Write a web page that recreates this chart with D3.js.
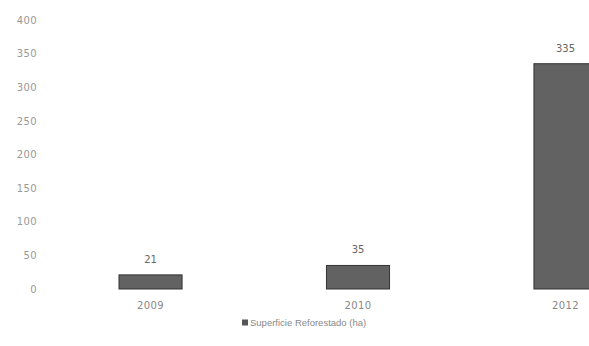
<!DOCTYPE html>
<html><head><meta charset="utf-8">
<script src="https://cdn.jsdelivr.net/npm/d3@7"></script>
<style>body{margin:0;background:#fff}svg{display:block}</style>
</head><body>
<svg id="c" width="589" height="346"></svg>
<script>
const categories = ["2009", "2010", "2012"];
const values = [21, 35, 335];
const yTicks = [0, 50, 100, 150, 200, 250, 300, 350, 400];
const seriesName = "Superficie Reforestado (ha)";

const svg = d3.select("#c");
const font = "'Liberation Sans', Arial, sans-serif";
const numFont = "'DejaVu Sans', Verdana, sans-serif";
const x = d3.scaleBand().domain(categories).range([47, 669]).paddingInner(0.696).paddingOuter(0.347);
const y = d3.scaleLinear().domain([0, 400]).range([289, 20]);

const yAxis = svg.append("g").attr("transform", "translate(37,0)")
  .call(d3.axisLeft(y).tickValues(yTicks).tickSize(0).tickPadding(0));
yAxis.select(".domain").remove();
yAxis.selectAll("text").attr("font-family", numFont).attr("font-size", 10).attr("letter-spacing", 0.4).attr("fill", "#999");

const xAxis = svg.append("g").attr("transform", "translate(0,289)")
  .call(d3.axisBottom(x).tickSize(0).tickPadding(13));
xAxis.select(".domain").remove();
xAxis.selectAll("text").attr("font-family", numFont).attr("font-size", 10).attr("letter-spacing", 0.4).attr("fill", "#888");

svg.append("g").selectAll("rect").data(values).join("rect")
  .attr("x", (d, i) => x(categories[i]))
  .attr("y", d => y(d))
  .attr("width", x.bandwidth())
  .attr("height", d => y(0) - y(d))
  .attr("fill", "#626262").attr("stroke", "#333").attr("stroke-width", 1);

svg.append("g").selectAll("text").data(values).join("text")
  .attr("x", (d, i) => x(categories[i]) + x.bandwidth() / 2)
  .attr("y", d => y(d) - 12)
  .attr("text-anchor", "middle")
  .attr("font-family", numFont).attr("font-size", 10).attr("fill", "#666")
  .text(d => d);

const lg = svg.append("g").attr("transform", "translate(242,323)");
lg.append("rect").attr("x", 0).attr("y", -3.5).attr("width", 6).attr("height", 6).attr("fill", "#555");
lg.append("text").attr("x", 8).attr("y", 3).attr("font-family", font).attr("font-size", 9.5).attr("fill", "#888").text(seriesName);
</script>
</body></html>
